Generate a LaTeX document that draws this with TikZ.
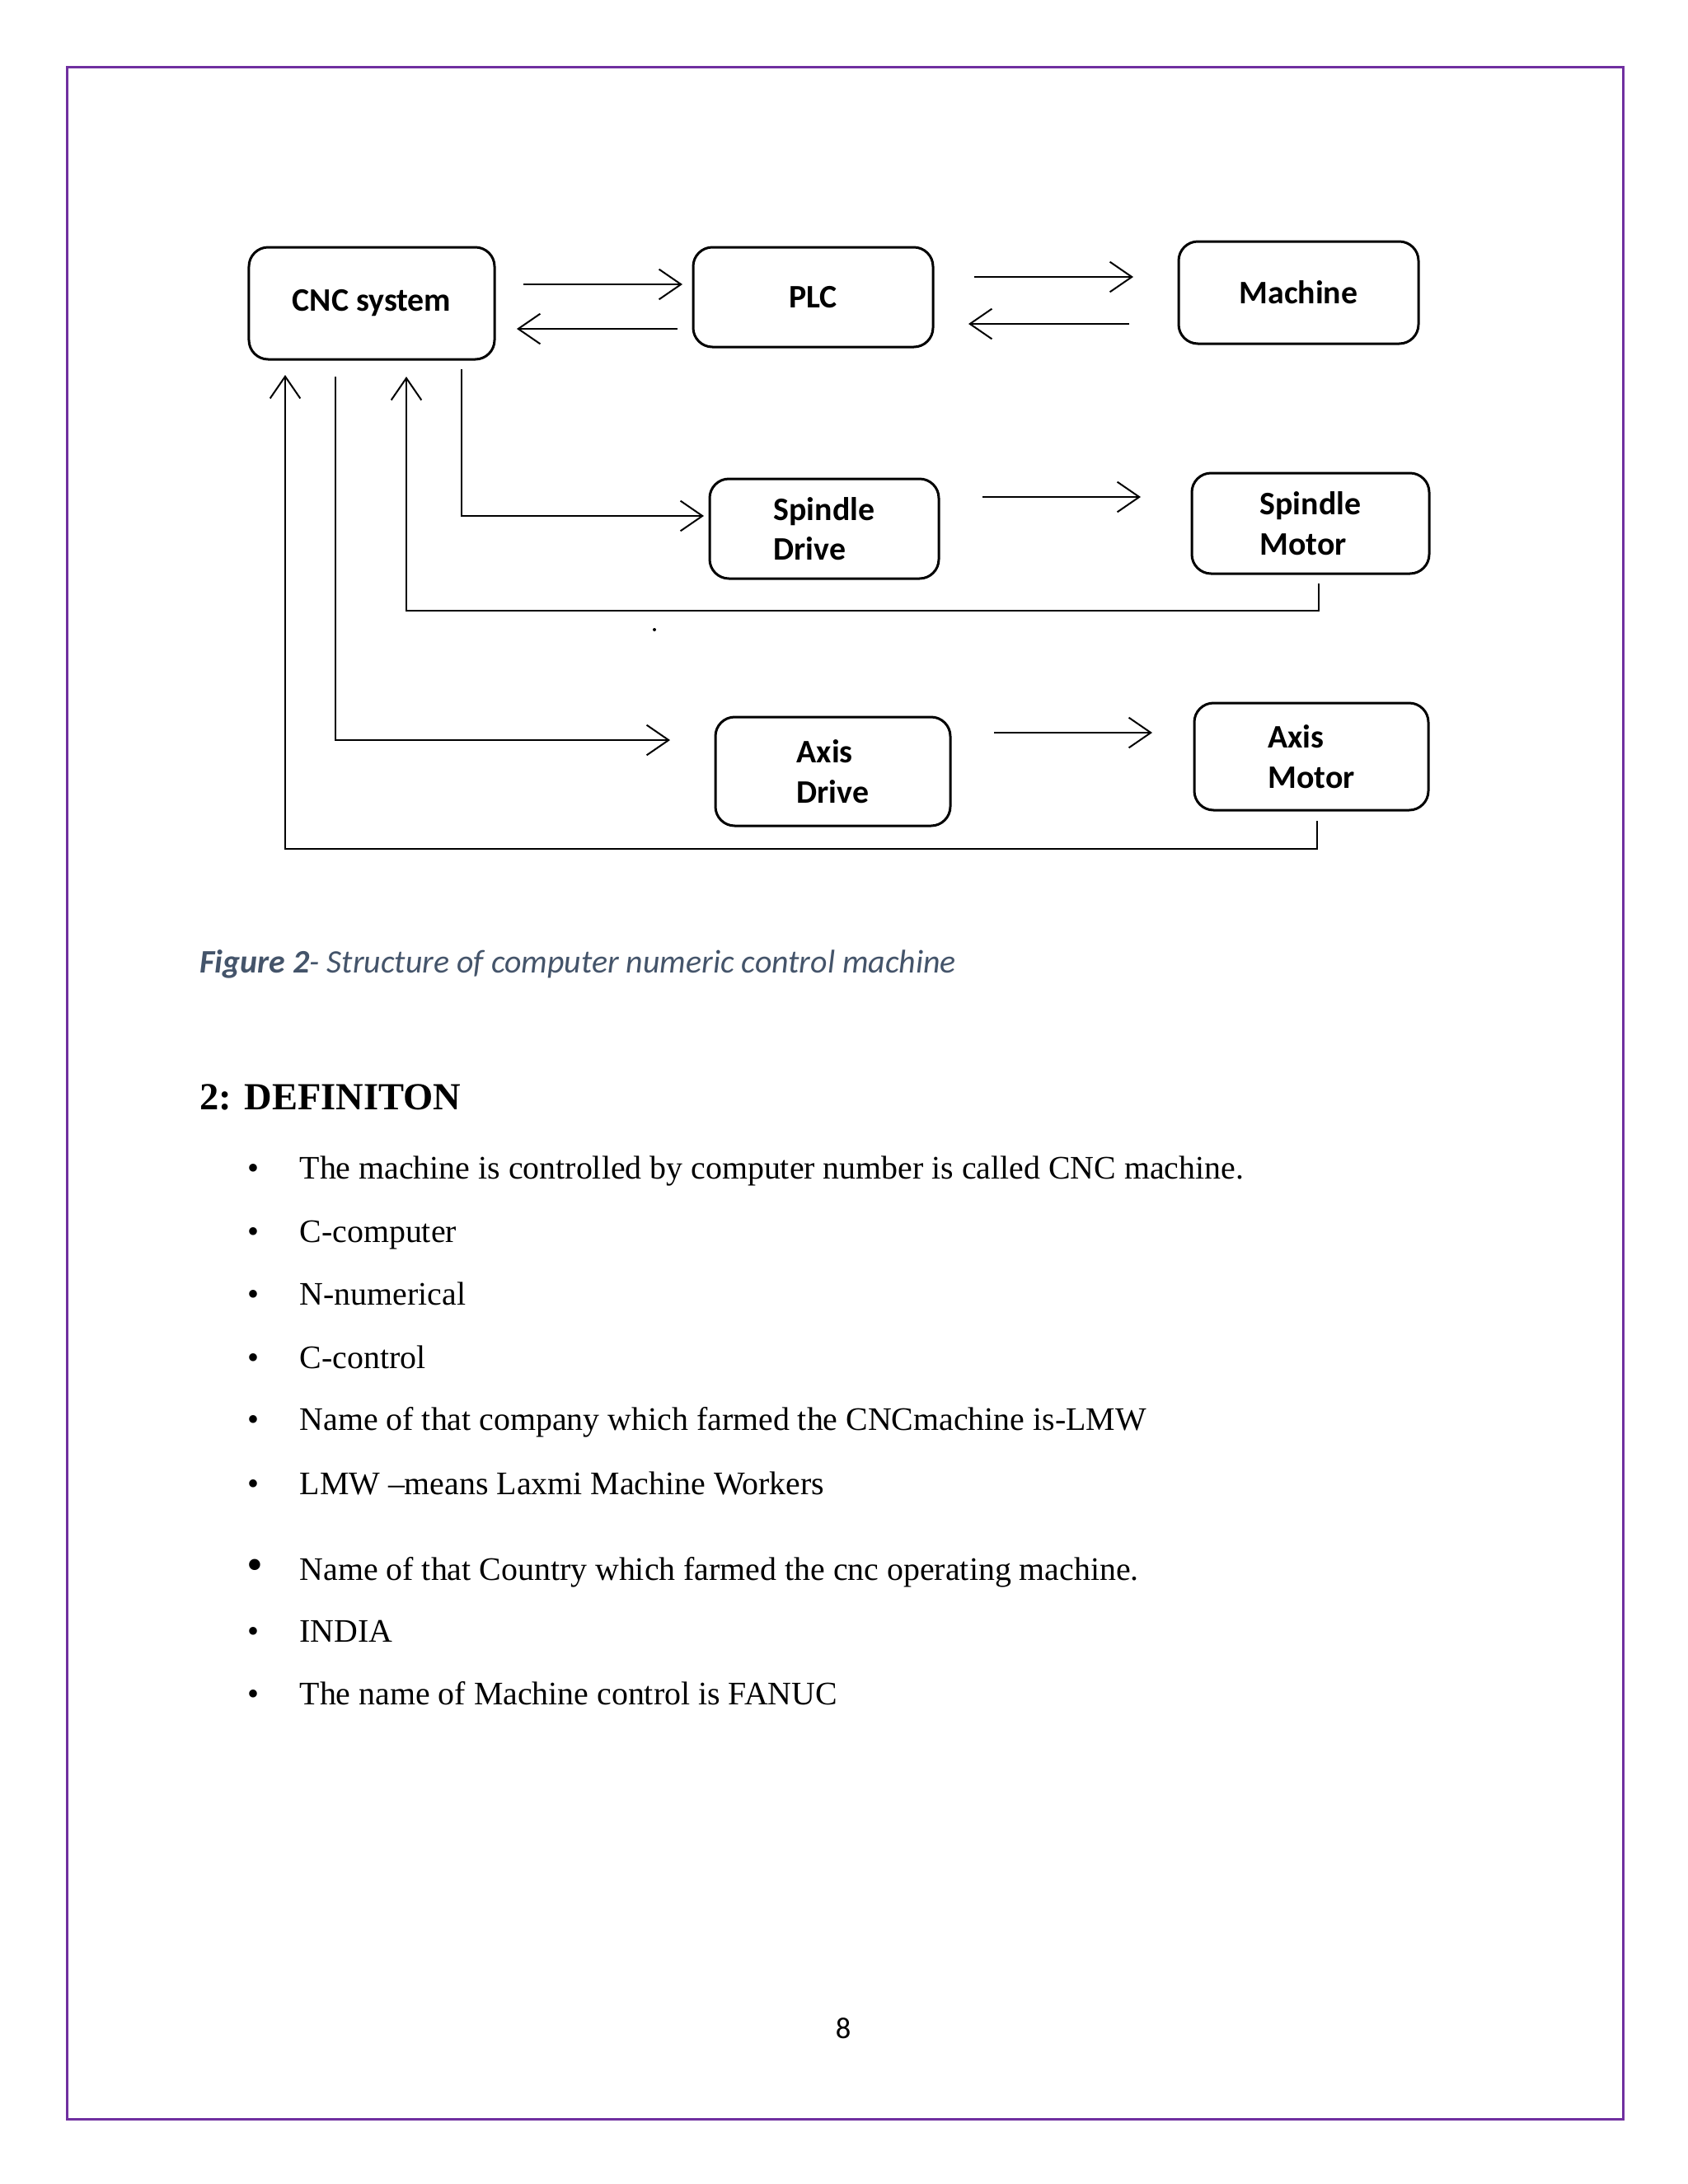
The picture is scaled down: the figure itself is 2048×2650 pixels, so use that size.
\documentclass[tikz,border=0pt]{standalone}
\usepackage{fontspec}
\setmainfont{Liberation Serif}
\newfontfamily\calibri{Carlito}
\usetikzlibrary{arrows.meta,calc}
\definecolor{pagepurple}{RGB}{112,48,160}
\definecolor{capgray}{RGB}{68,84,106}

\begin{document}
\begin{tikzpicture}[x=0.3bp, y=-0.3bp,
  box/.style = {draw, rounded corners=7bp, line width=0.9bp, outer sep=0pt, align=left, font=\calibri\bfseries\fontsize{12}{14.6}\selectfont},
  arr/.style = {-{Straight Barb[length=8bp,width=11bp]}, line width=0.6bp},
  item/.style = {anchor=base west, inner sep=0pt, font=\fontsize{12}{14}\selectfont},
  bul/.style = {anchor=base, inner sep=0pt, font=\fontsize{12}{14}\selectfont}]
		\fill[white] (0,0) rectangle (2048,2650);
		\useasboundingbox (0,0) rectangle (2048,2650);
		\draw[pagepurple, line width=0.9bp] (81,81) rectangle (1969,2571);
		
		\node[box, minimum width=89.4bp, minimum height=40.8bp] (cnc) at (451,368) {CNC system};
		\node[box, minimum width=87.3bp, minimum height=36.3bp] (plc) at (986.5,360.5) {PLC};
		\node[box, minimum width=87.3bp, minimum height=37.2bp] (machine) at (1575.5,355) {Machine};
		\node[box, minimum width=83.4bp, minimum height=36.3bp] (sd) at (1000,641.5) {Spindle\\Drive};
		\node[box, minimum width=86.4bp, minimum height=36.6bp] (sm) at (1590,635) {Spindle\\Motor};
		\node[box, minimum width=85.5bp, minimum height=39.6bp] (ad) at (1010.5,936) {Axis\\Drive};
		\node[box, minimum width=85.2bp, minimum height=39bp] (am) at (1591,918) {Axis\\Motor};
		
		\draw[arr] ($(cnc.east)+(35,-23)$) -- ($(plc.west)+(-13,-15.5)$);
		\draw[arr] ($(plc.west)+(-19,38.5)$) -- ($(cnc.east)+(27,31)$);
		\draw[arr] ($(plc.east)+(50,-24.5)$) -- ($(machine.west)+(-55,-19)$);
		\draw[arr] ($(machine.west)+(-60,38)$) -- ($(plc.east)+(43,32.5)$);
		\draw[arr] ($(sd.east)+(53,-38.5)$) -- ($(sm.west)+(-62,-32)$);
		\draw[arr] ($(ad.east)+(53,-47)$) -- ($(am.west)+(-51,-29)$);
		\draw[arr] ($(cnc.south)+(109,12)$) |- ($(sd.west)+(-7,-15.5)$);
		\draw[arr] ($(cnc.south)+(-44,21)$) |- ($(ad.west)+(-55,-38)$);
		\draw[arr] ($(sm.south)+(10,12)$) -- ++(0,33) -| ($(cnc.south)+(42,21)$);
		\draw[arr] ($(am.south)+(7,13)$) -- ++(0,34) -| ($(cnc.south)+(-105,19)$);
		\fill (794,764) circle (0.6bp);
		
		\node[anchor=base west, inner sep=0pt, text=capgray, font=\calibri\itshape\fontsize{12}{14}\selectfont] (caption) at (242,1180) {\textbf{Figure 2}- Structure of computer numeric control machine};
		\node[anchor=base west, inner sep=0pt, font=\bfseries\fontsize{14}{17}\selectfont] (heading) at (242,1346) {2: DEFINITON};
		
		\node[bul] (d1) at (307,1430) {\textbullet};
		\node[item] (t1) at (363,1430) {The machine is controlled by computer number is called CNC machine.};
		\node[bul] (d2) at (307,1507) {\textbullet};
		\node[item] (t2) at (363,1507) {C-computer};
		\node[bul] (d3) at (307,1583) {\textbullet};
		\node[item] (t3) at (363,1583) {N-numerical};
		\node[bul] (d4) at (307,1660) {\textbullet};
		\node[item] (t4) at (363,1660) {C-control};
		\node[bul] (d5) at (307,1735) {\textbullet};
		\node[item] (t5) at (363,1735) {Name of that company which farmed the CNCmachine is-LMW};
		\node[bul] (d6) at (307,1813) {\textbullet};
		\node[item] (t6) at (363,1813) {LMW –means Laxmi Machine Workers};
		\node[bul, font=\fontsize{17}{20}\selectfont] (d7) at (309,1917) {\textbullet};
		\node[item] (t7) at (363,1917) {Name of that Country which farmed the cnc operating machine.};
		\node[bul] (d8) at (307,1992) {\textbullet};
		\node[item] (t8) at (363,1992) {INDIA};
		\node[bul] (d9) at (307,2068) {\textbullet};
		\node[item] (t9) at (363,2068) {The name of Machine control is FANUC};
		
		\node[anchor=base, inner sep=0pt, font=\calibri\fontsize{11}{13}\selectfont] (pageno) at (1023,2473) {8};
		
	\end{tikzpicture}
\end{document}
